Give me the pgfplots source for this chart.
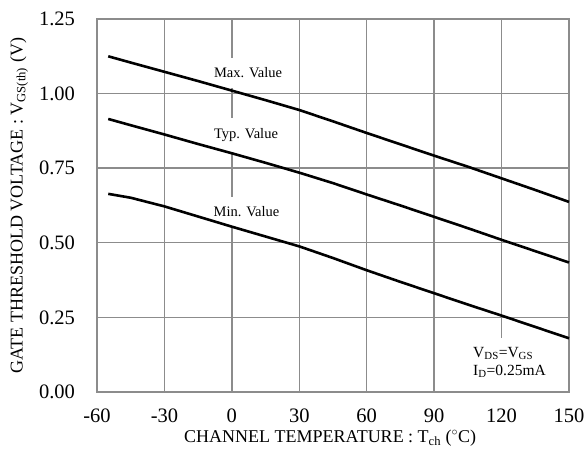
\documentclass[border=0pt]{standalone}
\usepackage{pgfplots}
\pgfplotsset{compat=1.18}
\usepackage{fontspec}
\setmainfont{Liberation Serif}
\definecolor{gridgray}{RGB}{140,140,140}
\begin{document}
\begin{tikzpicture}
\path[use as bounding box] (0,0) rectangle (585bp,460bp);
\begin{axis}[
  at={(97bp,68bp)}, anchor=south west,
  scale only axis, width=472bp, height=373bp,
  xmin=-60, xmax=150, ymin=0, ymax=1.25,
  xtick={-60,-30,0,30,60,90,120,150},
  ytick={0,0.25,0.5,0.75,1,1.25},
  grid=major,
  major grid style={gridgray, line width=1.4bp},
  axis line style={gridgray, line width=1.4bp},
  major tick length=0pt,
  /pgf/number format/assume math mode=true,
  yticklabel style={/pgf/number format/fixed, /pgf/number format/fixed zerofill, /pgf/number format/precision=2, font=\fontsize{20.5bp}{22bp}\selectfont, xshift=-18.5bp},
  xticklabel style={font=\fontsize{20.5bp}{22bp}\selectfont, yshift=-13bp},
  scaled y ticks=false,
  xlabel={CHANNEL TEMPERATURE : T\textsubscript{ch} ($^\circ$C)},
  ylabel={GATE THRESHOLD VOLTAGE : V\textsubscript{GS(th)} (V)},
  xlabel style={font=\fontsize{18bp}{20bp}\selectfont, at={(axis description cs:0.494,-0.123)}, anchor=center},
  ylabel style={font=\fontsize{18bp}{20bp}\selectfont, at={(axis description cs:-0.165,0.5)}, anchor=center},
  clip=false,
]
\fill[white] (axis cs:103,0.004) rectangle (axis cs:149.4,0.181);
\node[fill=white, inner xsep=2bp, inner ysep=10bp, font=\fontsize{14.5bp}{16bp}\selectfont] at (axis cs:7.2,1.069) {Max. Value};
\node[fill=white, inner xsep=2bp, inner ysep=10bp, font=\fontsize{14.5bp}{16bp}\selectfont] at (axis cs:6.3,0.861) {Typ. Value};
\node[fill=white, inner xsep=2bp, inner ysep=10bp, font=\fontsize{14.5bp}{16bp}\selectfont] at (axis cs:6.5,0.603) {Min. Value};
\node[anchor=west, inner sep=0pt, font=\fontsize{15.5bp}{16bp}\selectfont] at (axis cs:107.3,0.128) {V\textsubscript{DS}=V\textsubscript{GS}};
\node[anchor=west, inner sep=0pt, font=\fontsize{15.5bp}{16bp}\selectfont] at (axis cs:107.3,0.069) {I\textsubscript{D}=0.25mA};
\addplot[black, line width=2.6bp] coordinates {(-55,1.125) (-45,1.104) (-30,1.073) (-15,1.042) (0,1.010) (15,0.978) (30,0.945) (45,0.907) (60,0.868) (75,0.830) (90,0.792) (105,0.755) (120,0.716) (135,0.677) (150,0.637)};
\addplot[black, line width=2.6bp] coordinates {(-55,0.915) (-45,0.894) (-30,0.863) (-15,0.831) (0,0.800) (15,0.768) (30,0.735) (45,0.700) (60,0.662) (75,0.625) (90,0.587) (105,0.549) (120,0.510) (135,0.472) (150,0.434)};
\addplot[black, line width=2.6bp] coordinates {(-55,0.664) (-45,0.651) (-30,0.622) (-15,0.588) (0,0.554) (15,0.521) (30,0.488) (45,0.449) (60,0.408) (75,0.369) (90,0.331) (105,0.293) (120,0.256) (135,0.218) (150,0.180)};
\end{axis}
\end{tikzpicture}
\end{document}
